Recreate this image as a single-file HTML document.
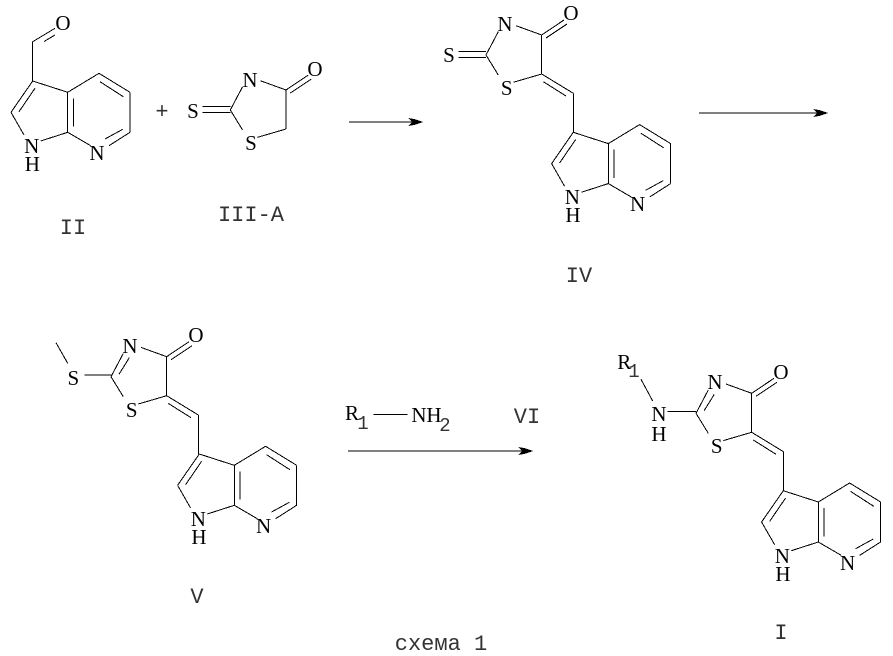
<!DOCTYPE html>
<html>
<head>
<meta charset="utf-8">
<style>
html,body{margin:0;padding:0;background:#fff;width:893px;height:656px;overflow:hidden}
svg{display:block}
line{stroke:#000;stroke-width:1}
text{font-family:"Liberation Serif","DejaVu Serif",serif;font-size:21px;fill:#000;text-anchor:middle}
text.m{font-family:"Liberation Mono","DejaVu Sans Mono",monospace;font-size:22px;fill:#333}
text.s{font-family:"Liberation Mono","DejaVu Sans Mono",monospace;font-size:19px;fill:#333}
</style>
</head>
<body>
<svg width="893" height="656" viewBox="0 0 893 656" xmlns="http://www.w3.org/2000/svg" shape-rendering="crispEdges">
<defs>
<g id="indole">
<line x1="32.7" y1="81" x2="11" y2="112.3"/>
<line x1="35" y1="88.3" x2="19" y2="111.7"/>
<line x1="11" y1="112.3" x2="24" y2="135"/>
<line x1="40.7" y1="141" x2="67.7" y2="132.3"/>
<line x1="67.7" y1="132.3" x2="90.7" y2="145.7"/>
<line x1="109" y1="145.7" x2="130" y2="132.3"/>
<line x1="105" y1="139" x2="122.7" y2="129.3"/>
<line x1="130" y1="132.3" x2="130" y2="92.3"/>
<line x1="130" y1="92.3" x2="99" y2="73.3"/>
<line x1="100" y1="81.7" x2="123.3" y2="96.7"/>
<line x1="99" y1="73.3" x2="67.7" y2="92.3"/>
<line x1="67.7" y1="92.3" x2="67.7" y2="132.3"/>
<line x1="73.3" y1="98.3" x2="73.3" y2="126.7"/>
<line x1="32.7" y1="81" x2="67.7" y2="92.3"/>
</g>
<g id="core">
<line x1="541.7" y1="35" x2="564" y2="20"/>
<line x1="546" y1="38" x2="567" y2="24"/>
<line x1="516" y1="25.7" x2="541.7" y2="35"/>
<line x1="541.7" y1="35" x2="541.7" y2="74"/>
<line x1="513.3" y1="82.3" x2="541.7" y2="74"/>
<line x1="486" y1="55" x2="498.3" y2="75"/>
<line x1="498.3" y1="31.7" x2="486" y2="55"/>
</g>
<g id="exo">
<line x1="541.7" y1="74" x2="573.3" y2="93.3"/>
<line x1="543.3" y1="81.7" x2="566" y2="96"/>
<line x1="573.3" y1="93.3" x2="573.3" y2="132.3"/>
</g>
<path id="head" d="M0 0 L-9 -3 L-15 -4 L-11 0 L-15 4 L-9 3 Z" fill="#000"/>
</defs>

<!-- II -->
<use href="#indole"/>
<line x1="32.7" y1="81" x2="32.7" y2="41.7"/>
<line x1="32.7" y1="41.7" x2="55" y2="28.3"/>
<line x1="44" y1="41.5" x2="55" y2="35"/>
<text x="63" y="30">O</text>
<text x="31.7" y="153">N</text>
<text x="32.3" y="171">H</text>
<text x="97" y="160">N</text>
<text class="m" x="162" y="118">+</text>
<text class="m" x="73" y="234">II</text>

<!-- III-A -->
<g transform="translate(-255.7,55)">
<use href="#core"/>
<line x1="458.3" y1="51.7" x2="486" y2="51.7"/>
<line x1="458.3" y1="57.3" x2="486" y2="57.3"/>
</g>
<line x1="257.6" y1="137.3" x2="286" y2="129"/>
<text x="315" y="76">O</text>
<text x="250" y="87">N</text>
<text x="193" y="118">S</text>
<text x="251" y="150">S</text>
<text class="m" x="251" y="221">III-A</text>

<!-- Arrow 1 -->
<line x1="349" y1="122" x2="415" y2="122"/>
<use href="#head" transform="translate(423,122)"/>

<!-- IV -->
<use href="#core"/>
<use href="#exo"/>
<line x1="458.3" y1="51.7" x2="486" y2="51.7"/>
<line x1="458.3" y1="57.3" x2="486" y2="57.3"/>
<text x="571" y="20">O</text>
<text x="505" y="31">N</text>
<text x="449" y="62">S</text>
<text x="506.7" y="95">S</text>
<g transform="translate(540.6,51.3)"><use href="#indole"/></g>
<text x="572.3" y="204">N</text>
<text x="572.9" y="222">H</text>
<text x="637.6" y="211">N</text>
<text class="m" x="579" y="282">IV</text>

<!-- Arrow 2 -->
<line x1="699" y1="113" x2="820" y2="113"/>
<use href="#head" transform="translate(828,113)"/>

<!-- V -->
<g transform="translate(-375,321.7)">
<use href="#core"/>
<use href="#exo"/>
<line x1="494" y1="52.6" x2="504.3" y2="36"/>
</g>
<line x1="84.3" y1="375" x2="111" y2="375"/>
<line x1="56" y1="342.7" x2="67.7" y2="363.3"/>
<text x="196" y="342">O</text>
<text x="130" y="353">N</text>
<text x="73.3" y="385">S</text>
<text x="131.7" y="417">S</text>
<g transform="translate(166.6,373)"><use href="#indole"/></g>
<text x="198.3" y="526">N</text>
<text x="198.9" y="544">H</text>
<text x="263.6" y="533">N</text>
<text class="m" x="197" y="603">V</text>

<!-- Reagent -->
<text x="352" y="420">R</text>
<text class="s" x="363" y="429">1</text>
<line x1="373.3" y1="414.3" x2="407.3" y2="414.3"/>
<text x="419" y="422">N</text>
<text x="434" y="422">H</text>
<text class="s" x="445" y="431">2</text>
<text class="m" x="527" y="423">VI</text>

<!-- Arrow 3 -->
<line x1="348" y1="451" x2="525" y2="451"/>
<use href="#head" transform="translate(533,451)"/>

<!-- I -->
<g transform="translate(210,358.3)">
<use href="#core"/>
<use href="#exo"/>
<line x1="494" y1="52.6" x2="504.3" y2="36"/>
</g>
<line x1="667.3" y1="411.7" x2="696" y2="411.7"/>
<line x1="641" y1="379.3" x2="652.7" y2="401"/>
<text x="781" y="379">O</text>
<text x="715" y="389">N</text>
<text x="624.3" y="369">R</text>
<text class="s" x="634" y="377">1</text>
<text x="659" y="421">N</text>
<text x="659" y="441">H</text>
<text x="716.7" y="453">S</text>
<g transform="translate(750.6,409.7)"><use href="#indole"/></g>
<text x="782.3" y="563">N</text>
<text x="782.9" y="581">H</text>
<text x="847.6" y="570">N</text>
<text class="m" x="781" y="639">I</text>

<text class="m" x="441" y="650">схема 1</text>
</svg>
</body>
</html>
